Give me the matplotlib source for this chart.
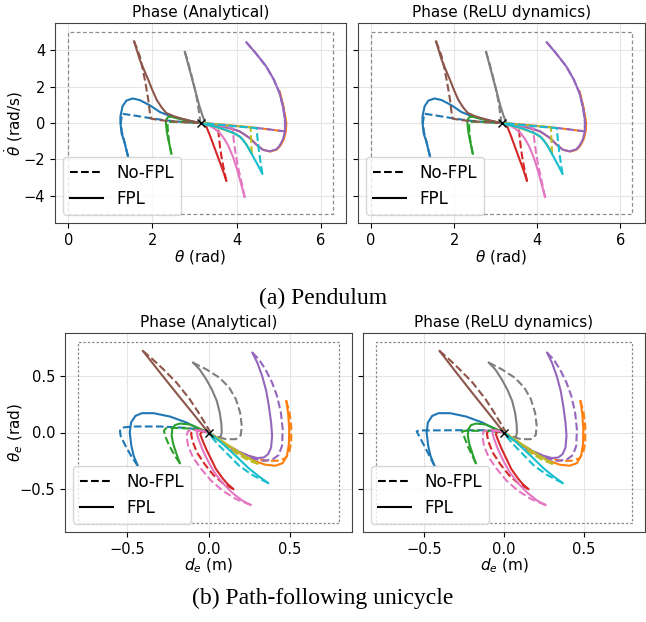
import matplotlib
matplotlib.use('Agg')
import matplotlib.pyplot as plt
from matplotlib.lines import Line2D
import numpy as np

COLOR_ORDER = ['blue', 'orange', 'green', 'red', 'purple', 'brown', 'pink', 'gray', 'olive', 'cyan']
TAB = {'blue': '#1f77b4', 'orange': '#ff7f0e', 'green': '#2ca02c', 'red': '#d62728',
       'purple': '#9467bd', 'brown': '#8c564b', 'pink': '#e377c2', 'gray': '#7f7f7f',
       'olive': '#bcbd22', 'cyan': '#17becf'}

# ---------------- Pendulum (theta, theta_dot) ----------------
P_BLUE_NO = [(1.42, -1.84), (1.33, -1.0), (1.27, -0.45), (1.25, 0.05), (1.28, 0.51), (1.60, 0.40),
             (1.94, 0.27), (2.30, 0.15), (2.60, 0.08), (2.90, 0.03), (3.14, 0.0)]
P_BLUE_FPL = [(1.42, -1.84), (1.33, -1.0), (1.27, -0.6), (1.24, 0.0), (1.24, 0.37), (1.29, 0.92),
              (1.38, 1.23), (1.53, 1.35), (1.70, 1.26), (1.94, 0.97), (2.18, 0.60), (2.42, 0.38),
              (2.73, 0.20), (2.95, 0.08), (3.14, 0.0)]
P_ORANGE_NO = [(5.02, 1.74), (5.10, 1.0), (5.15, 0.40), (5.17, 0.0), (5.14, -0.46), (4.80, -0.36),
               (4.47, -0.27), (4.10, -0.19), (3.80, -0.12), (3.50, -0.06), (3.14, 0.0)]
P_ORANGE_FPL = [(5.02, 1.74), (5.10, 1.0), (5.15, 0.40), (5.18, 0.0), (5.17, -0.45), (5.12, -0.90),
                (5.04, -1.25), (4.95, -1.47), (4.80, -1.57), (4.62, -1.47), (4.47, -1.19),
                (4.31, -0.83), (4.07, -0.46), (3.755, -0.24), (3.44, -0.13), (3.14, 0.0)]
P_GREEN_NO = [(2.45, -1.69), (2.42, -1.35), (2.39, -0.95), (2.37, -0.50), (2.36, -0.15), (2.37, 0.05),
              (2.50, 0.07), (2.70, 0.05), (2.95, 0.02), (3.14, 0.0)]
P_GREEN_FPL = [(2.45, -1.69), (2.42, -1.35), (2.38, -0.95), (2.34, -0.45), (2.32, 0.0), (2.33, 0.20),
               (2.37, 0.33), (2.45, 0.34), (2.60, 0.25), (2.80, 0.14), (3.00, 0.05), (3.14, 0.0)]
P_RED_NO = [(3.755, -3.18), (3.70, -2.60), (3.65, -2.00), (3.61, -1.40), (3.58, -0.80), (3.56, -0.28),
            (3.50, -0.18), (3.40, -0.10), (3.28, -0.05), (3.14, 0.0)]
P_RED_FPL = [(3.755, -3.18), (3.68, -2.65), (3.60, -2.15), (3.52, -1.65), (3.44, -1.15), (3.36, -0.65),
             (3.28, -0.20), (3.20, -0.05), (3.14, 0.0)]
P_PURPLE_NO = [(4.23, 4.44), (4.45, 3.85), (4.70, 3.12), (4.88, 2.40), (5.02, 1.65), (5.11, 0.80),
               (5.15, 0.0), (5.14, -0.46), (4.80, -0.36), (4.47, -0.27), (4.10, -0.19), (3.80, -0.12),
               (3.50, -0.06), (3.14, 0.0)]
P_PURPLE_FPL = [(4.23, 4.44), (4.45, 3.85), (4.70, 3.12), (4.88, 2.40), (5.02, 1.65), (5.11, 0.80),
                (5.16, 0.0), (5.15, -0.45), (5.10, -0.90), (5.02, -1.25), (4.94, -1.45), (4.78, -1.56),
                (4.62, -1.47), (4.47, -1.19), (4.31, -0.83), (4.18, -0.62), (4.07, -0.46),
                (3.92, -0.34), (3.755, -0.24), (3.60, -0.18), (3.44, -0.13), (3.30, -0.06), (3.14, 0.0)]
P_BROWN_NO = [(1.565, 4.49), (1.64, 4.05), (1.70, 3.67), (1.77, 2.95), (1.835, 2.20), (1.90, 1.30),
              (1.94, 0.55), (1.96, 0.25), (2.10, 0.18), (2.33, 0.12), (2.60, 0.07), (2.85, 0.03),
              (3.14, 0.0)]
P_BROWN_FPL = [(1.565, 4.49), (1.63, 4.00), (1.70, 3.48), (1.80, 2.92), (1.90, 2.38), (2.00, 1.80),
               (2.10, 1.28), (2.22, 0.85), (2.33, 0.55), (2.50, 0.38), (2.65, 0.27), (2.90, 0.12),
               (3.14, 0.0)]
P_PINK_NO = [(4.19, -4.07), (4.11, -3.20), (4.03, -2.39), (3.97, -1.60), (3.93, -0.90), (3.90, -0.28),
             (3.75, -0.20), (3.55, -0.12), (3.35, -0.05), (3.14, 0.0)]
P_PINK_FPL = [(4.19, -4.07), (4.10, -3.30), (4.01, -2.55), (3.91, -1.84), (3.80, -1.25), (3.70, -0.85),
              (3.60, -0.55), (3.48, -0.32), (3.36, -0.15), (3.25, -0.05), (3.14, 0.0)]
P_GRAY_NO = [(2.77, 3.91), (2.85, 3.30), (2.93, 2.60), (3.00, 1.95), (3.05, 1.40), (3.09, 0.85),
             (3.12, 0.35), (3.14, 0.0)]
P_GRAY_FPL = [(2.77, 3.91), (2.84, 3.30), (2.91, 2.70), (2.98, 2.10), (3.05, 1.50), (3.12, 0.90),
              (3.19, 0.40), (3.25, 0.05), (3.30, -0.15), (3.22, -0.06), (3.14, 0.0)]
P_OLIVE_NO = [(4.36, -1.70), (4.35, -1.20), (4.34, -0.70), (4.33, -0.22), (4.10, -0.18), (3.80, -0.13),
              (3.50, -0.07), (3.14, 0.0)]
P_OLIVE_FPL = [(4.36, -1.70), (4.29, -1.40), (4.21, -1.10), (4.10, -0.80), (3.95, -0.58), (3.80, -0.45),
               (3.60, -0.29), (3.40, -0.15), (3.14, 0.0)]
P_CYAN_NO = [(4.61, -2.79), (4.57, -2.20), (4.53, -1.55), (4.50, -0.95), (4.48, -0.50), (4.47, -0.28),
             (4.20, -0.23), (3.90, -0.17), (3.60, -0.10), (3.35, -0.04), (3.14, 0.0)]
P_CYAN_FPL = [(4.61, -2.79), (4.50, -2.30), (4.39, -1.84), (4.31, -1.50), (4.23, -1.19), (4.15, -0.93),
              (4.07, -0.73), (3.95, -0.58), (3.83, -0.46), (3.68, -0.33), (3.52, -0.22), (3.38, -0.14),
              (3.24, -0.06), (3.14, 0.0)]

# ---------------- Unicycle (d_e, theta_e) ----------------
U_BLUE_NO = [(-0.434, -0.294), (-0.469, -0.221), (-0.509, -0.118), (-0.539, -0.029), (-0.543, 0.015),
             (-0.529, 0.044), (-0.459, 0.053), (-0.297, 0.053), (-0.135, 0.041), (-0.055, 0.024), (0.0, 0.0)]
U_BLUE_FPL = [(-0.434, -0.294), (-0.459, -0.206), (-0.473, -0.118), (-0.483, 0.0), (-0.475, 0.088),
              (-0.448, 0.147), (-0.408, 0.171), (-0.337, 0.171), (-0.236, 0.141), (-0.135, 0.088),
              (-0.055, 0.029), (0.0, 0.0)]
U_ORANGE_NO = [(0.477, 0.279), (0.497, 0.176), (0.507, 0.059), (0.507, -0.088), (0.495, -0.176),
               (0.471, -0.229), (0.420, -0.250), (0.349, -0.250), (0.269, -0.221), (0.188, -0.171),
               (0.107, -0.103), (0.046, -0.044), (0.0, 0.0)]
U_ORANGE_FPL = [(0.477, 0.279), (0.489, 0.162), (0.495, 0.029), (0.493, -0.103), (0.481, -0.206),
                (0.455, -0.271), (0.410, -0.294), (0.349, -0.285), (0.279, -0.250), (0.208, -0.200),
                (0.127, -0.124), (0.057, -0.059), (0.0, 0.0)]
U_GREEN_NO = [(-0.176, -0.271), (-0.206, -0.206), (-0.240, -0.118), (-0.265, -0.035), (-0.273, 0.015),
              (-0.261, 0.038), (-0.216, 0.041), (-0.115, 0.035), (0.0, 0.0)]
U_GREEN_FPL = [(-0.176, -0.271), (-0.196, -0.191), (-0.216, -0.103), (-0.226, -0.029), (-0.222, 0.029),
               (-0.206, 0.065), (-0.176, 0.079), (-0.115, 0.071), (-0.055, 0.035), (0.0, 0.0)]
U_RED_NO = [(0.152, -0.5), (0.087, -0.447), (0.030, -0.376), (-0.024, -0.279), (-0.071, -0.176),
            (-0.099, -0.074), (-0.107, -0.006), (-0.085, 0.021), (-0.044, 0.018), (0.0, 0.0)]
U_RED_FPL = [(0.152, -0.5), (0.117, -0.456), (0.087, -0.406), (0.046, -0.324), (0.016, -0.235),
             (-0.014, -0.147), (-0.038, -0.065), (-0.051, -0.015), (-0.038, 0.012), (0.0, 0.0)]
U_PURPLE_NO = [(0.269, 0.706), (0.309, 0.647), (0.349, 0.559), (0.390, 0.441), (0.420, 0.324),
               (0.444, 0.176), (0.455, 0.029), (0.451, -0.118), (0.430, -0.200), (0.390, -0.241),
               (0.329, -0.250), (0.248, -0.221), (0.168, -0.171), (0.097, -0.103), (0.036, -0.044),
               (0.0, 0.0)]
U_PURPLE_FPL = [(0.269, 0.706), (0.299, 0.618), (0.329, 0.500), (0.354, 0.368), (0.370, 0.235),
                (0.384, 0.088), (0.390, -0.029), (0.384, -0.132), (0.366, -0.191), (0.339, -0.221),
                (0.299, -0.226), (0.248, -0.206), (0.188, -0.171), (0.117, -0.112), (0.057, -0.059),
                (0.0, 0.0)]
U_BROWN_NO = [(-0.402, 0.721), (-0.347, 0.653), (-0.277, 0.559), (-0.196, 0.441), (-0.115, 0.294),
              (-0.055, 0.162), (-0.014, 0.065), (0.010, 0.006), (0.0, 0.0)]
U_BROWN_FPL = [(-0.402, 0.721), (-0.297, 0.529), (-0.196, 0.347), (-0.095, 0.168), (-0.034, 0.059),
               (0.0, 0.0)]
U_PINK_NO = [(0.259, -0.641), (0.168, -0.588), (0.087, -0.515), (0.016, -0.426), (-0.044, -0.324),
             (-0.095, -0.221), (-0.125, -0.118), (-0.135, -0.029), (-0.125, 0.015), (-0.075, 0.021),
             (0.0, 0.0)]
U_PINK_FPL = [(0.259, -0.641), (0.208, -0.603), (0.147, -0.535), (0.087, -0.447), (0.036, -0.353),
              (-0.004, -0.250), (-0.038, -0.147), (-0.065, -0.044), (-0.071, 0.0), (-0.055, 0.021),
              (0.0, 0.0)]
U_GRAY_NO = [(-0.095, 0.618), (-0.014, 0.559), (0.067, 0.485), (0.127, 0.397), (0.168, 0.294),
             (0.194, 0.176), (0.204, 0.059), (0.198, -0.024), (0.168, -0.059), (0.107, -0.059),
             (0.046, -0.035), (0.0, 0.0)]
U_GRAY_FPL = [(-0.095, 0.618), (-0.055, 0.559), (-0.014, 0.471), (0.022, 0.376), (0.051, 0.279),
              (0.069, 0.176), (0.079, 0.074), (0.081, 0.0), (0.075, -0.035), (0.046, -0.047),
              (0.016, -0.029), (0.0, 0.0)]
U_OLIVE_NO = [(0.303, -0.279), (0.238, -0.241), (0.178, -0.191), (0.117, -0.132), (0.057, -0.065),
              (0.0, 0.0)]
U_OLIVE_FPL = [(0.303, -0.274), (0.248, -0.229), (0.188, -0.176), (0.127, -0.118), (0.067, -0.059),
               (0.0, 0.0)]
U_CYAN_NO = [(0.366, -0.447), (0.269, -0.376), (0.188, -0.294), (0.117, -0.191), (0.057, -0.103),
             (0.016, -0.035), (0.0, 0.0)]
U_CYAN_FPL = [(0.366, -0.447), (0.309, -0.388), (0.248, -0.318), (0.188, -0.235), (0.127, -0.153),
              (0.067, -0.074), (0.026, -0.029), (0.0, 0.0)]

# ReLU-dynamics unicycle differences (sharper No-FPL corners)
U2_BLUE_NO = [(-0.434, -0.294), (-0.486, -0.150), (-0.545, 0.010), (-0.530, 0.018), (-0.300, 0.020),
              (-0.100, 0.020), (0.0, 0.0)]
U2_GREEN_NO = [(-0.176, -0.271), (-0.220, -0.140), (-0.262, 0.010), (-0.240, 0.015), (-0.100, 0.015),
               (0.0, 0.0)]

PEND = {'blue': (P_BLUE_NO, P_BLUE_FPL), 'orange': (P_ORANGE_NO, P_ORANGE_FPL),
        'green': (P_GREEN_NO, P_GREEN_FPL), 'red': (P_RED_NO, P_RED_FPL),
        'purple': (P_PURPLE_NO, P_PURPLE_FPL), 'brown': (P_BROWN_NO, P_BROWN_FPL),
        'pink': (P_PINK_NO, P_PINK_FPL), 'gray': (P_GRAY_NO, P_GRAY_FPL),
        'olive': (P_OLIVE_NO, P_OLIVE_FPL), 'cyan': (P_CYAN_NO, P_CYAN_FPL)}
UNI = {'blue': (U_BLUE_NO, U_BLUE_FPL), 'orange': (U_ORANGE_NO, U_ORANGE_FPL),
       'green': (U_GREEN_NO, U_GREEN_FPL), 'red': (U_RED_NO, U_RED_FPL),
       'purple': (U_PURPLE_NO, U_PURPLE_FPL), 'brown': (U_BROWN_NO, U_BROWN_FPL),
       'pink': (U_PINK_NO, U_PINK_FPL), 'gray': (U_GRAY_NO, U_GRAY_FPL),
       'olive': (U_OLIVE_NO, U_OLIVE_FPL), 'cyan': (U_CYAN_NO, U_CYAN_FPL)}
UNI_RELU = dict(UNI)
UNI_RELU['blue'] = (U2_BLUE_NO, U_BLUE_FPL)
UNI_RELU['green'] = (U2_GREEN_NO, U_GREEN_FPL)

P_BOX = [(0.0, -5.0), (2 * np.pi, -5.0), (2 * np.pi, 5.0), (0.0, 5.0), (0.0, -5.0)]
U_BOX = [(-0.8, -0.8), (0.8, -0.8), (0.8, 0.8), (-0.8, 0.8), (-0.8, -0.8)]
P_GOAL = (np.pi, 0.0)
U_GOAL = (0.0, 0.0)

TITLES = ['Phase (Analytical)', 'Phase (ReLU dynamics)']
P_XTICKS = [0, 2, 4, 6]
P_YTICKS = [-4, -2, 0, 2, 4]
U_TICKS = [-0.5, 0.0, 0.5]

W, H = 646, 622
fig = plt.figure(figsize=(W / 100, H / 100), dpi=100)


def ax_at(x0, y0, x1, y1):
    return fig.add_axes([x0 / W, 1 - y1 / H, (x1 - x0) / W, (y1 - y0) / H])


axes = [ax_at(55, 23, 346, 223), ax_at(358, 23, 645, 223),
        ax_at(65, 333, 352, 532), ax_at(363, 333, 645, 532)]


def draw(ax, curves, box, goal, title, xlabel, ylabel, xticks, yticks, show_y, box_ls, ylab_x):
    ax.grid(True, color='#e6e6e6', lw=0.8)
    ax.set_axisbelow(True)
    bx, by = zip(*box)
    ax.plot(bx, by, linestyle=box_ls, color='#8c8c8c', lw=0.9)
    for name in COLOR_ORDER:
        no, fpl = curves[name]
        x, y = zip(*no)
        ax.plot(x, y, '--', color=TAB[name], lw=1.5)
        x, y = zip(*fpl)
        ax.plot(x, y, '-', color=TAB[name], lw=1.5)
    ax.plot([goal[0]], [goal[1]], 'x', color='black', ms=6, mew=1.0)
    ax.set_xticks(xticks)
    ax.set_yticks(yticks)
    ax.set_title(title, fontsize=11, pad=4)
    ax.set_xlabel(xlabel, fontsize=11, labelpad=0)
    if show_y:
        ax.set_ylabel(ylabel, fontsize=11)
        ax.yaxis.set_label_coords(ylab_x, 0.5)
    else:
        ax.tick_params(labelleft=False)
    ax.tick_params(labelsize=10.5)
    for s in ax.spines.values():
        s.set_color('#444444')
    handles = [Line2D([], [], color='black', ls='--', lw=1.5),
               Line2D([], [], color='black', ls='-', lw=1.5)]
    ax.legend(handles, ['No-FPL', 'FPL'], loc='lower left', fontsize=12, framealpha=0.8)


for i, ax in enumerate(axes[:2]):
    draw(ax, PEND, P_BOX, P_GOAL, TITLES[i], r'$\theta$ (rad)', r'$\dot{\theta}$ (rad/s)',
         P_XTICKS, P_YTICKS, i == 0, (0, (3, 2)), (25 - 55) / 291)
for i, ax in enumerate(axes[2:]):
    draw(ax, UNI if i == 0 else UNI_RELU, U_BOX, U_GOAL, TITLES[i], r'$d_e$ (m)', r'$\theta_e$ (rad)',
         U_TICKS, U_TICKS, i == 0, (0, (2, 1.5)), (25 - 65) / 287)

fig.text(0.5, 1 - 298 / H, '(a) Pendulum', ha='center', va='center',
         family='Liberation Serif', fontsize=17)
fig.text(0.5, 1 - 598 / H, '(b) Path-following unicycle', ha='center', va='center',
         family='Liberation Serif', fontsize=17)

fig.savefig('out.png', dpi=100)
